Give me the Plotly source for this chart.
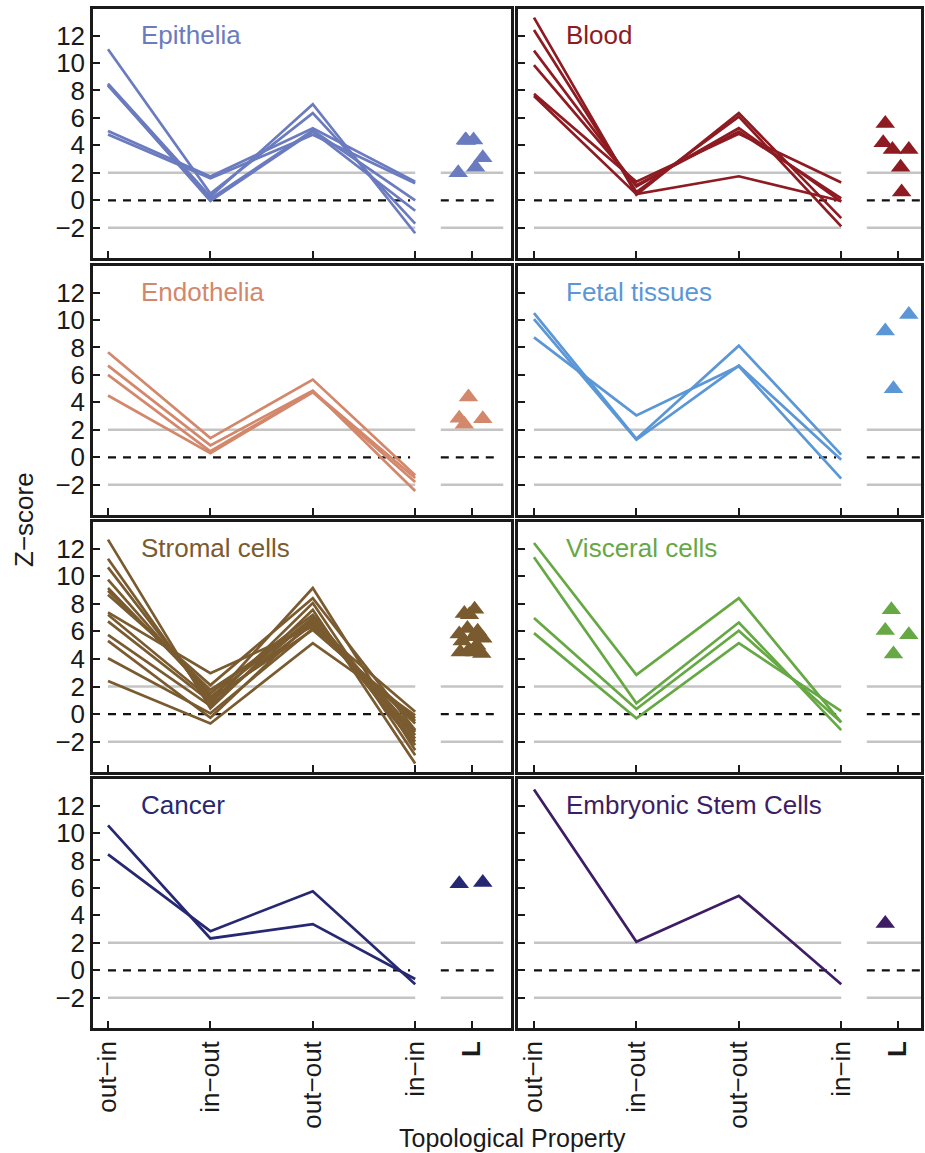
import plotly.graph_objects as go

# ---------------- data ----------------
categories = ["out−in", "in−out", "out−out", "in−in"]
L_label = "L"
cat_x = [1, 2, 3, 4]
L_x = 4.55
y_ticks = [-2, 0, 2, 4, 6, 8, 10, 12]

epithelia_lines = [
    [11.0, 0.5, 6.35, -1.7],
    [8.5, 0.27, 7.0, -2.4],
    [8.4, -0.05, 5.0, -0.76],
    [8.35, 0.1, 5.1, 0.0],
    [5.05, 1.73, 5.25, 1.36],
    [4.8, 1.6, 4.77, 1.24],
]
epithelia_L = [2.0, 4.4, 4.4, 2.4, 3.1, 4.35]
epithelia_L_jitter = [-0.13, -0.06, 0.02, 0.04, 0.11, -0.05]

blood_lines = [
    [13.3, 0.4, 6.35, -1.3],
    [12.4, 0.6, 6.1, -1.9],
    [10.9, 1.0, 5.25, -0.1],
    [9.85, 1.1, 5.0, 0.15],
    [7.75, 1.35, 4.85, 1.3],
    [7.6, 0.45, 1.75, -0.05],
]
blood_L = [5.6, 4.2, 3.7, 3.7, 2.4, 0.6]
blood_L_jitter = [-0.12, -0.14, -0.05, 0.11, 0.03, 0.04]

endothelia_lines = [
    [7.65, 1.4, 5.66, -1.3],
    [6.68, 0.87, 4.86, -2.45],
    [6.0, 0.44, 4.8, -1.5],
    [4.5, 0.3, 4.74, -1.8],
]
endothelia_L = [4.4, 2.85, 2.4, 2.8]
endothelia_L_jitter = [-0.03, -0.12, -0.07, 0.11]

fetal_lines = [
    [10.5, 1.35, 8.13, 0.2],
    [10.07, 1.28, 6.68, -0.17],
    [8.73, 3.05, 6.63, -1.55],
]
fetal_L = [9.2, 10.4, 5.0]
fetal_L_jitter = [-0.12, 0.11, -0.04]

stromal_lines = [
    [12.65, 0.41, 7.56, -3.59],
    [11.27, 0.78, 8.05, -2.98],
    [10.64, 1.0, 9.14, -2.62],
    [9.75, 1.26, 6.96, -2.25],
    [9.14, 1.5, 7.2, -1.77],
    [8.95, 1.75, 6.67, -1.53],
    [8.65, 2.1, 8.41, -1.16],
    [7.37, 2.96, 6.35, -0.68],
    [7.2, 1.1, 6.1, -0.3],
    [6.72, 0.9, 6.5, 0.17],
    [5.75, 0.6, 7.0, -1.3],
    [5.31, -0.27, 6.8, -2.0],
    [4.05, 0.05, 6.2, -0.5],
    [2.4, -0.68, 5.14, -0.1],
]
stromal_L = [7.6, 7.3, 7.2, 6.2, 6.0, 5.8, 5.6, 5.5, 5.3, 5.0, 4.6, 4.5, 4.5, 4.4]
stromal_L_jitter = [0.03, -0.07, -0.02, -0.04, 0.06, -0.12, 0.02, 0.11,
                    -0.09, 0.05, -0.03, -0.11, 0.03, 0.10]

visceral_lines = [
    [12.41, 2.84, 8.41, -0.6],
    [11.37, 0.78, 6.64, -1.16],
    [6.96, 0.36, 6.04, -0.6],
    [5.87, -0.31, 5.14, 0.22],
]
visceral_L = [7.56, 6.06, 5.75, 4.35]
visceral_L_jitter = [-0.06, -0.12, 0.11, -0.04]

cancer_lines = [
    [10.55, 2.32, 3.36, -0.63],
    [8.44, 2.85, 5.76, -1.02],
]
cancer_L = [6.3, 6.4]
cancer_L_jitter = [-0.12, 0.11]

esc_lines = [
    [13.16, 2.08, 5.42, -1.02],
]
esc_L = [3.4]
esc_L_jitter = [-0.12]

panel_titles = ["Epithelia", "Blood", "Endothelia", "Fetal tissues",
                "Stromal cells", "Visceral cells", "Cancer", "Embryonic Stem Cells"]
panel_colors = ["#6b7bbf", "#8e1b22", "#d3876b", "#5b97d6",
                "#7a5b30", "#66a844", "#262872", "#3d1d63"]
panel_lines = [epithelia_lines, blood_lines, endothelia_lines, fetal_lines,
               stromal_lines, visceral_lines, cancer_lines, esc_lines]
panel_L = [epithelia_L, blood_L, endothelia_L, fetal_L,
           stromal_L, visceral_L, cancer_L, esc_L]
panel_jitter = [epithelia_L_jitter, blood_L_jitter, endothelia_L_jitter, fetal_L_jitter,
                stromal_L_jitter, visceral_L_jitter, cancer_L_jitter, esc_L_jitter]

# ---------------- layout geometry (pixels) ----------------
W, H = 925, 1153
col_px = [(93, 511), (518, 921)]
col_xrange = [[0.8535, 4.9355], [0.844, 4.779]]
row_px = [(9, 258), (266, 515), (522, 772), (779, 1028)]
y_range = [-4.2, 13.93]

FONT = "Arial, Liberation Sans, Helvetica, sans-serif"
INK = "#1a1a1a"

fig = go.Figure()
layout = dict(
    width=W, height=H, margin=dict(l=0, r=0, t=0, b=0),
    paper_bgcolor="white", plot_bgcolor="white", showlegend=False,
    font=dict(family=FONT, color=INK),
)
annotations = []

for i in range(8):
    r, c = divmod(i, 2)
    n = i + 1
    xa = "x" if n == 1 else f"x{n}"
    ya = "y" if n == 1 else f"y{n}"
    color = panel_colors[i]

    # reference lines
    fig.add_trace(go.Scatter(x=[1, 4, None, 4.25, 4.86], y=[2, 2, None, 2, 2],
                             mode="lines", line=dict(color="#c4c4c4", width=2.5),
                             xaxis=xa, yaxis=ya, hoverinfo="skip"))
    fig.add_trace(go.Scatter(x=[1, 4, None, 4.25, 4.86], y=[-2, -2, None, -2, -2],
                             mode="lines", line=dict(color="#c4c4c4", width=2.5),
                             xaxis=xa, yaxis=ya, hoverinfo="skip"))
    fig.add_trace(go.Scatter(x=[1, 3.95, None, 4.25, 4.8], y=[0, 0, None, 0, 0],
                             mode="lines", line=dict(color="#111111", width=2.2, dash="8px,7px"),
                             xaxis=xa, yaxis=ya, hoverinfo="skip"))
    # data lines
    for vals in panel_lines[i]:
        fig.add_trace(go.Scatter(x=cat_x, y=vals, mode="lines",
                                 line=dict(color=color, width=2.7),
                                 xaxis=xa, yaxis=ya))
    # L triangles
    fig.add_trace(go.Scatter(x=[L_x + j for j in panel_jitter[i]], y=panel_L[i],
                             mode="markers",
                             marker=dict(symbol="triangle-up", size=17, color=color,
                                         line=dict(width=0)),
                             xaxis=xa, yaxis=ya))

    x0, x1 = col_px[c]
    yt, yb = row_px[r]
    layout["xaxis" if n == 1 else f"xaxis{n}"] = dict(
        domain=[x0 / W, x1 / W], range=col_xrange[c], anchor=ya,
        tickmode="array", tickvals=cat_x + [L_x],
        ticktext=categories + ["<b>" + L_label + "</b>"],
        showticklabels=(r == 3), tickangle=-90,
        tickfont=dict(size=26, color=INK, family=FONT),
        ticks="inside", ticklen=7, tickwidth=2, tickcolor=INK,
        showline=True, mirror=True, linecolor=INK, linewidth=2.5,
        showgrid=False, zeroline=False, fixedrange=True, automargin=False,
    )
    layout["yaxis" if n == 1 else f"yaxis{n}"] = dict(
        domain=[1 - yb / H, 1 - yt / H], range=y_range, anchor=xa,
        tickmode="array", tickvals=y_ticks,
        showticklabels=(c == 0),
        tickfont=dict(size=26, color=INK, family=FONT),
        ticks="inside", ticklen=7, tickwidth=2, tickcolor=INK,
        showline=True, mirror=True, linecolor=INK, linewidth=2.5,
        showgrid=False, zeroline=False, fixedrange=True, automargin=False,
    )
    annotations.append(dict(
        text=panel_titles[i], xref="paper", yref="paper",
        x=(x0 + 46) / W, y=1 - (yt + 26) / H, xanchor="left", yanchor="middle",
        showarrow=False, font=dict(size=26, color=color, family=FONT)))

annotations.append(dict(text="Z−score", xref="paper", yref="paper",
                        x=24 / W, y=1 - 520 / H, textangle=-90,
                        xanchor="center", yanchor="middle", showarrow=False,
                        font=dict(size=26, color=INK, family=FONT)))
annotations.append(dict(text="Topological Property", xref="paper", yref="paper",
                        x=512 / W, y=1 - 1138 / H, xanchor="center", yanchor="middle",
                        showarrow=False, font=dict(size=25, color=INK, family=FONT)))
layout["annotations"] = annotations
fig.update_layout(**layout)

fig.write_html("out.html", config={"displayModeBar": False},
               post_script="document.body.style.margin='0';document.body.style.overflow='hidden';")
